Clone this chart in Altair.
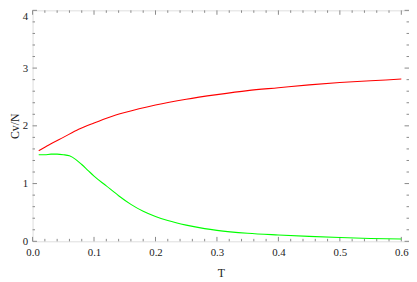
import altair as alt
import pandas as pd

# Red curve (Cv/N vs T)
T_red = [0.01, 0.02, 0.03, 0.05, 0.075, 0.10, 0.125, 0.15, 0.20, 0.25, 0.30, 0.35, 0.40, 0.45, 0.50, 0.55, 0.60]
cv_red = [1.57, 1.63, 1.69, 1.80, 1.94, 2.05, 2.15, 2.23, 2.36, 2.46, 2.54, 2.61, 2.66, 2.71, 2.75, 2.78, 2.81]

# Green curve
T_green = [0.01, 0.02, 0.03, 0.04, 0.05, 0.06, 0.07, 0.08, 0.09, 0.10, 0.12, 0.14, 0.16, 0.18, 0.20, 0.22,
           0.25, 0.28, 0.30, 0.35, 0.40, 0.45, 0.50, 0.55, 0.60]
cv_green = [1.50, 1.50, 1.51, 1.51, 1.50, 1.48, 1.42, 1.33, 1.23, 1.13, 0.96, 0.79, 0.64, 0.52, 0.43, 0.36,
            0.28, 0.22, 0.19, 0.14, 0.11, 0.085, 0.065, 0.05, 0.04]

x_major = [0.0, 0.1, 0.2, 0.3, 0.4, 0.5, 0.6]
x_minor = [0.02, 0.04, 0.06, 0.08, 0.12, 0.14, 0.16, 0.18, 0.22, 0.24, 0.26, 0.28,
           0.32, 0.34, 0.36, 0.38, 0.42, 0.44, 0.46, 0.48, 0.52, 0.54, 0.56, 0.58]
y_major = [0, 1, 2, 3, 4]
y_minor = [0.2, 0.4, 0.6, 0.8, 1.2, 1.4, 1.6, 1.8, 2.2, 2.4, 2.6, 2.8, 3.2, 3.4, 3.6, 3.8]

W, H = 383, 235
FONT = "Liberation Serif"
FRAME = "#888888"

df = pd.concat([
    pd.DataFrame({"T": T_red, "cv": cv_red, "s": "red"}),
    pd.DataFrame({"T": T_green, "cv": cv_green, "s": "green"}),
])

xscale = alt.Scale(domain=[0, 0.6125], nice=False, zero=False)
yscale = alt.Scale(domain=[0, 4], nice=False, zero=False)

xaxis = alt.Axis(values=x_major, format=".1f", ticks=False, domain=False, grid=False,
                 title="T", labelFont=FONT, titleFont=FONT, labelFontSize=11, titleFontSize=12,
                 titleFontWeight="normal", labelColor="#222", titleColor="#222",
                 labelPadding=5, labelFlush=False, labelOverlap=False,
                 titleY=32, titleBaseline="middle")
yaxis = alt.Axis(values=y_major, format="d", ticks=False, domain=False, grid=False,
                 title="Cv/N", labelFont=FONT, titleFont=FONT, labelFontSize=11, titleFontSize=12,
                 titleFontWeight="normal", labelColor="#222", titleColor="#222",
                 labelPadding=5, labelFlush=False, labelOverlap=False,
                 labelBaseline={"condition": {"test": "datum.value == 4", "value": "top"}, "value": "middle"},
                 titleX=-18, titleBaseline="middle", titleAngle=-90)

lines = alt.Chart(df).mark_line(strokeWidth=1.1, clip=True, interpolate="monotone").encode(
    x=alt.X("T:Q", scale=xscale, axis=xaxis),
    y=alt.Y("cv:Q", scale=yscale, axis=yaxis),
    color=alt.Color("s:N", scale=alt.Scale(domain=["red", "green"], range=["#ff0000", "#00ff00"]), legend=None),
    detail="s:N",
)

def xticks(vals, length):
    d = pd.DataFrame({"T": vals})
    bottom = alt.Chart(d).mark_rule(color=FRAME, strokeWidth=1).encode(
        x=alt.X("T:Q", scale=xscale), y=alt.value(H), y2=alt.value(H - length))
    top = alt.Chart(d).mark_rule(color=FRAME, strokeWidth=1).encode(
        x=alt.X("T:Q", scale=xscale), y=alt.value(0), y2=alt.value(length))
    return [bottom, top]

def yticks(vals, length):
    d = pd.DataFrame({"cv": vals})
    left = alt.Chart(d).mark_rule(color=FRAME, strokeWidth=1).encode(
        y=alt.Y("cv:Q", scale=yscale), x=alt.value(0), x2=alt.value(length))
    right = alt.Chart(d).mark_rule(color=FRAME, strokeWidth=1).encode(
        y=alt.Y("cv:Q", scale=yscale), x=alt.value(W), x2=alt.value(W - length))
    return [left, right]

layers = xticks(x_major, 4.5) + xticks(x_minor, 2.5) + yticks(y_major, 4.5) + yticks(y_minor, 2.5) + [lines]

chart = alt.layer(*layers).properties(
    width=W, height=H,
    padding={"left": 25, "top": 0, "right": 0, "bottom": 39},
    autosize=alt.AutoSizeParams(type="none"),
).configure_view(stroke=FRAME, strokeWidth=1).configure(background="white")

chart.save("out.html", embed_options={"renderer": "svg", "actions": False})
